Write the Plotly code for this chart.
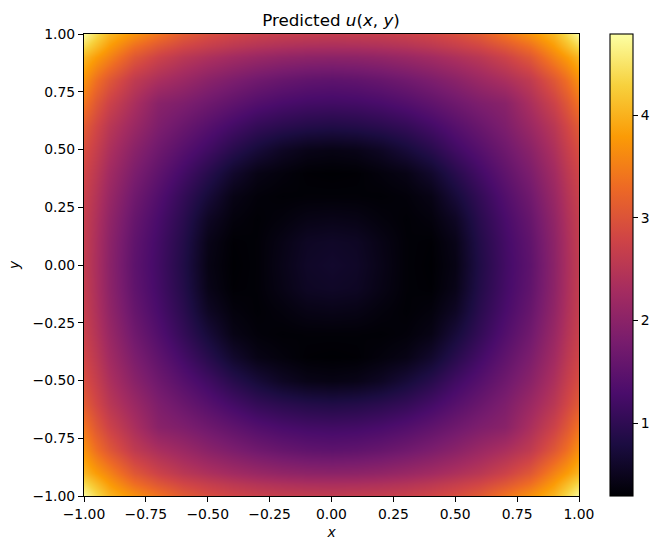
import numpy as np
import plotly.graph_objects as go

# values: upper-right quadrant, rows y=0..1, columns x=0..1
axis_values = [0.0, 0.1, 0.2, 0.3, 0.4, 0.5, 0.6, 0.7, 0.8, 0.9, 0.95, 1.0]
quadrant = [
    [.62, .58, .45, .32, .29, .42, .85, 1.20, 1.50, 2.00, 2.35, 2.63],
    [.58, .55, .43, .32, .30, .45, .88, 1.22, 1.53, 2.02, 2.36, 2.65],
    [.45, .43, .36, .31, .36, .55, .95, 1.28, 1.60, 2.07, 2.40, 2.67],
    [.32, .32, .31, .34, .43, .72, 1.05, 1.38, 1.70, 2.15, 2.46, 2.72],
    [.29, .30, .36, .43, .62, .92, 1.22, 1.52, 1.83, 2.25, 2.55, 2.80],
    [.42, .45, .55, .72, .92, 1.18, 1.42, 1.68, 1.98, 2.38, 2.67, 2.92],
    [.85, .88, .95, 1.05, 1.22, 1.42, 1.63, 1.85, 2.17, 2.53, 2.82, 3.10],
    [1.20, 1.22, 1.28, 1.38, 1.52, 1.68, 1.85, 1.98, 2.35, 2.75, 3.05, 3.40],
    [1.50, 1.53, 1.60, 1.70, 1.83, 1.98, 2.17, 2.35, 2.60, 3.05, 3.35, 3.70],
    [2.00, 2.02, 2.07, 2.15, 2.25, 2.38, 2.53, 2.75, 3.05, 3.55, 3.80, 4.05],
    [2.35, 2.36, 2.40, 2.46, 2.55, 2.67, 2.82, 3.05, 3.35, 3.80, 4.10, 4.40],
    [2.63, 2.65, 2.67, 2.72, 2.80, 2.92, 3.10, 3.40, 3.70, 4.05, 4.40, 4.75],
]
xy_ticks = [-1.0, -0.75, -0.5, -0.25, 0.0, 0.25, 0.5, 0.75, 1.0]
cbar_ticks = [1, 2, 3, 4]
inferno = ['#000004', '#1b0c41', '#4a0c6b', '#781c6d', '#a52c60',
           '#cf4446', '#ed6925', '#fb9b06', '#f7d13d', '#fcffa4']

q = np.array(quadrant)
right = np.hstack([q[:, :0:-1], q])
z = np.vstack([right[:0:-1], right])
a = np.array(axis_values)
coords = np.concatenate([-a[:0:-1], a])

FONT = "DejaVu Sans"
fig = go.Figure(go.Heatmap(
    x=coords, y=coords, z=z, zsmooth="best",
    colorscale=[[i / 9, c] for i, c in enumerate(inferno)],
    zmin=0.29, zmax=4.79,
    colorbar=dict(
        x=1 + 31 / 495, xanchor="left", thickness=23, thicknessmode="pixels",
        len=1, lenmode="fraction", y=0.5, yanchor="middle", xpad=0, ypad=0,
        outlinewidth=1.1, outlinecolor="black",
        tickvals=cbar_ticks, ticks="outside", ticklen=5, tickwidth=1.1,
        tickcolor="black", tickfont=dict(family=FONT, size=13.9, color="black"),
    ),
))
axis = dict(
    range=[-1, 1], tickvals=xy_ticks, tickformat=".2f", ticks="outside",
    ticklen=5, tickwidth=1.1, tickcolor="black", showline=True, mirror=True,
    linecolor="black", linewidth=1.1, showgrid=False, zeroline=False,
    tickfont=dict(family=FONT, size=13.9, color="black"),
)
fig.update_xaxes(**axis, title=dict(text="<i>x</i>", font=dict(family=FONT, size=13.9, color="black"), standoff=6))
fig.update_yaxes(**axis, title=dict(text="<i>y</i>", font=dict(family=FONT, size=13.9, color="black"), standoff=9))
fig.update_layout(
    width=661, height=549, autosize=False,
    margin=dict(l=84, r=82, t=34, b=53, pad=0, autoexpand=False),
    paper_bgcolor="white", plot_bgcolor="white",
    title=dict(text="Predicted <i>u</i>(<i>x</i>, <i>y</i>)", x=331 / 661, xanchor="center",
               y=1 - 20 / 549, yanchor="middle",
               font=dict(family=FONT, size=16.7, color="black")),
)
fig.write_html("out.html", config={"displayModeBar": False},
               post_script="document.body.style.margin='0';document.documentElement.style.overflow='hidden';")
